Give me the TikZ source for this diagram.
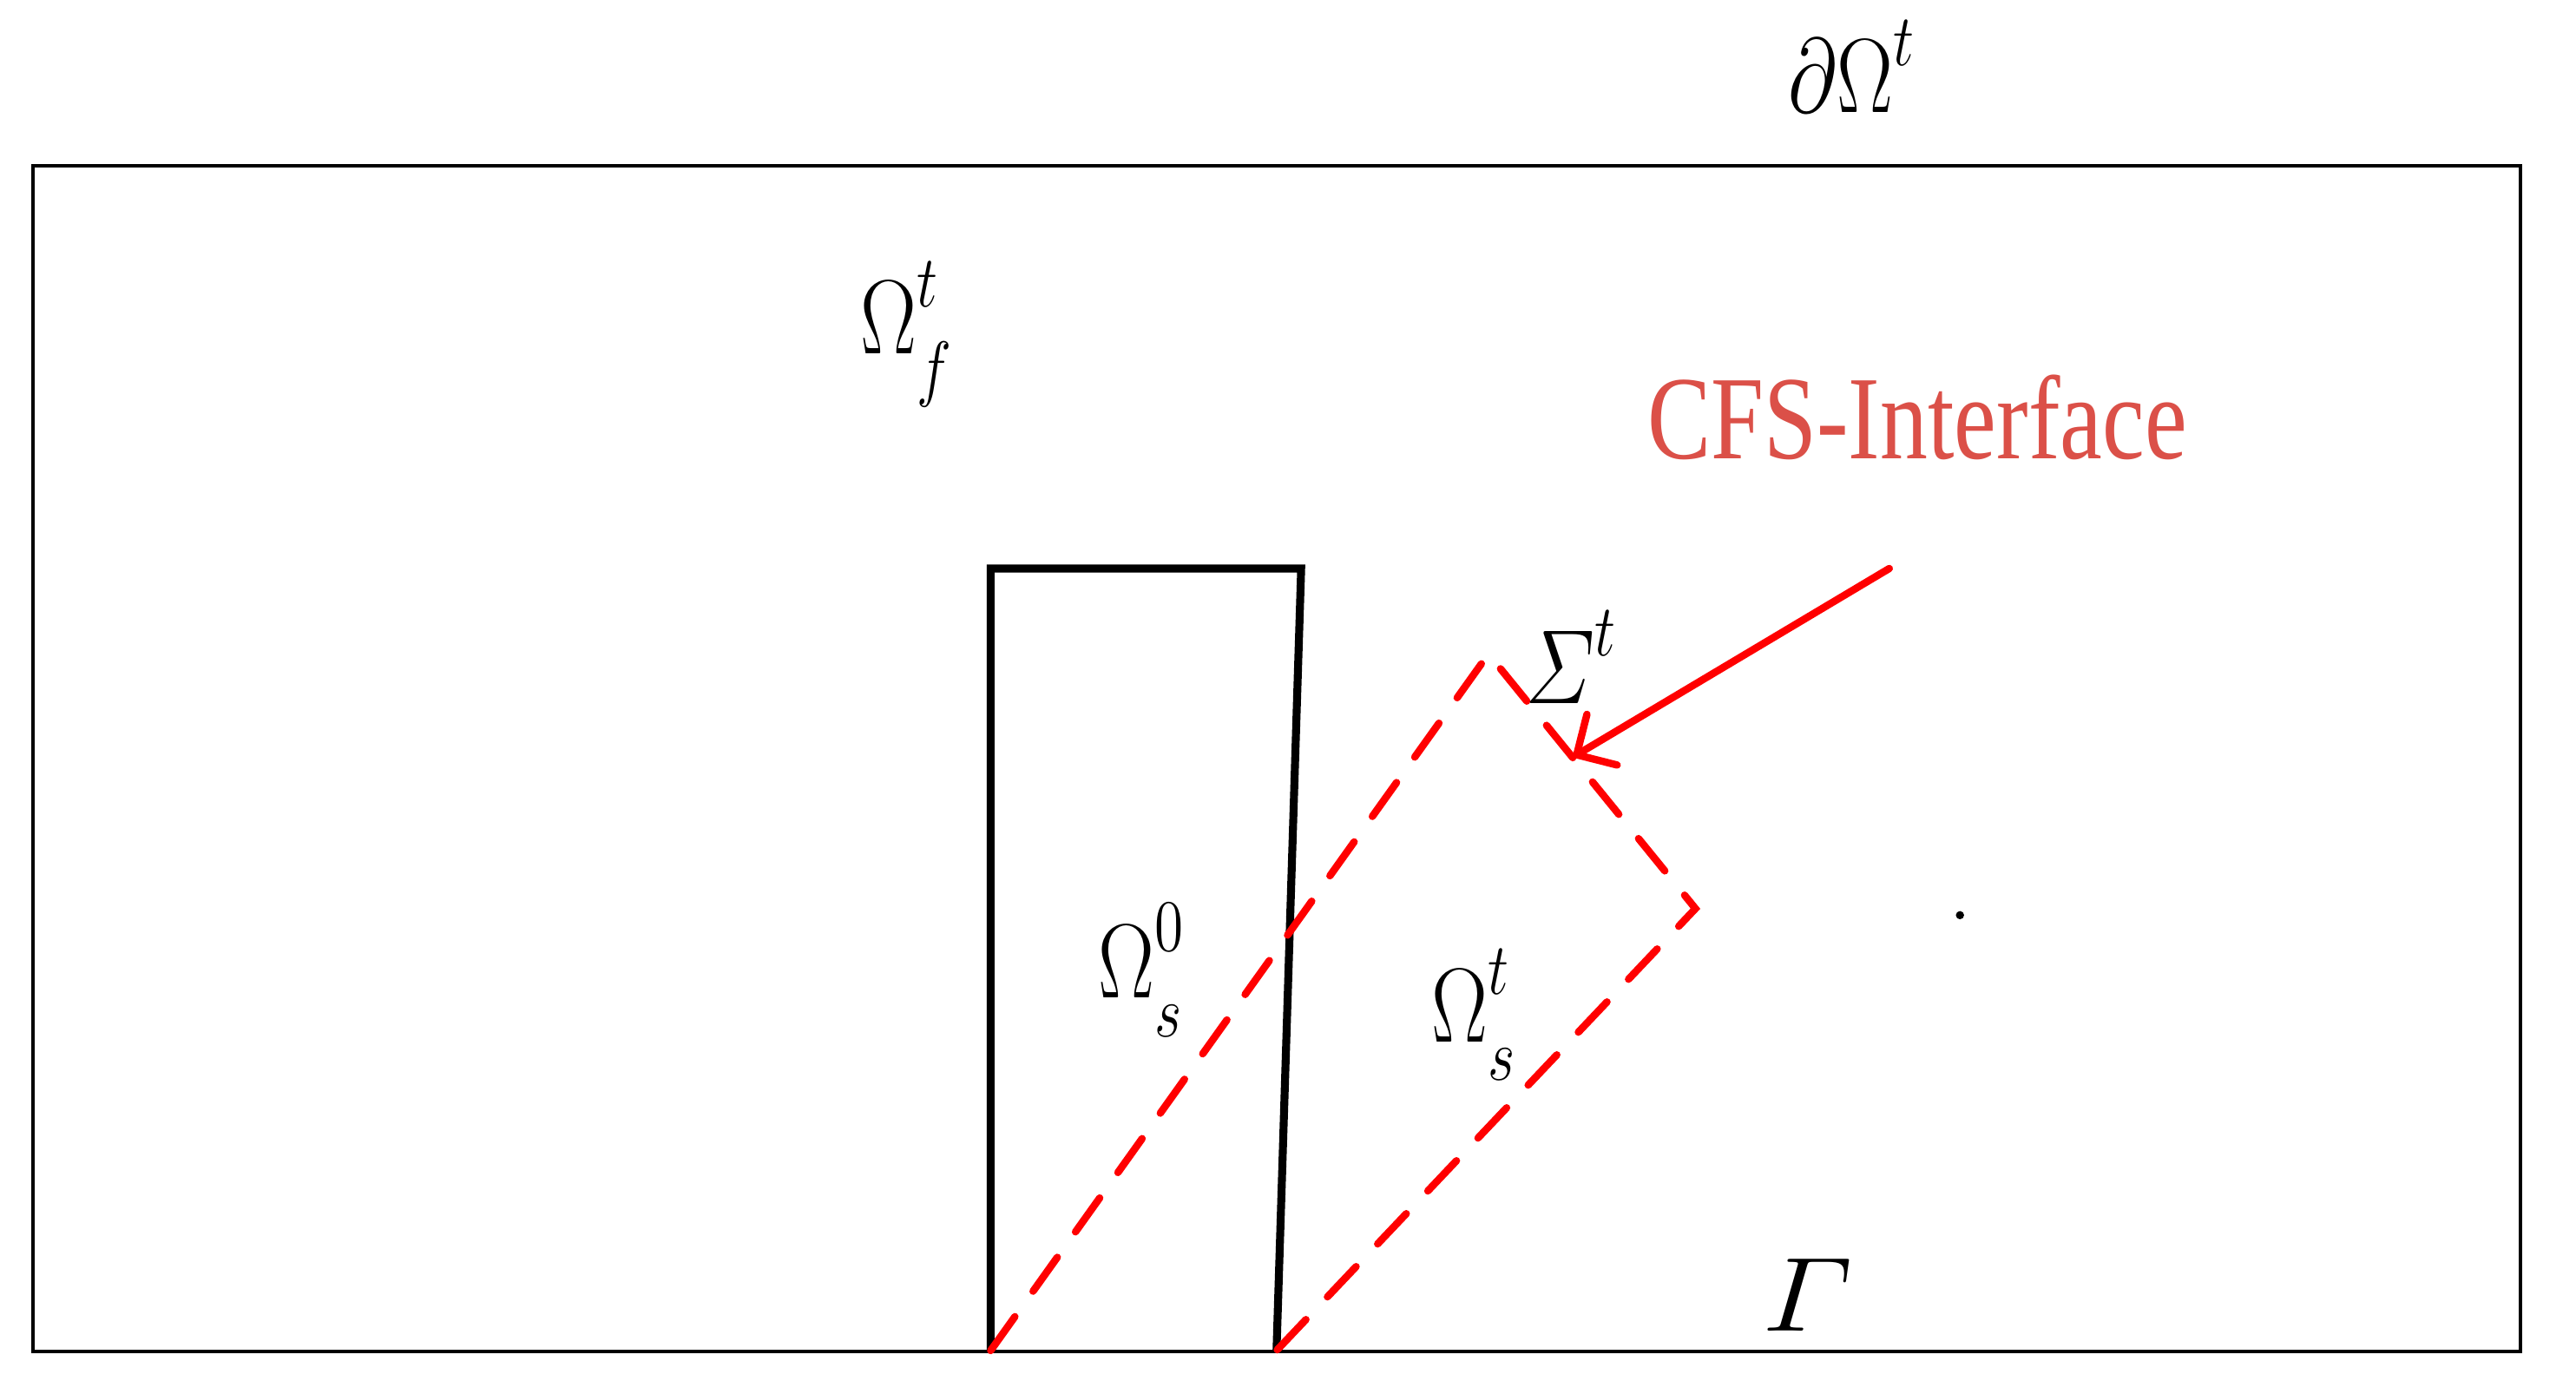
\documentclass[tikz,border=0pt]{standalone}
\usepackage{amsmath}
\usepackage{fontspec}
\newfontfamily\cfsfont{Liberation Serif}
\usetikzlibrary{arrows.meta}
\definecolor{cfsred}{RGB}{219,80,72}
\newcommand{\dom}[3]{#1^{\raisebox{1.5pt}{$\scriptstyle #3$}}_{\raisebox{-2pt}{$\scriptstyle #2$}}}
\tikzset{
    domainlbl/.style={inner sep=0pt, anchor=base west, xscale=0.8, font=\fontsize{17}{20}\selectfont},
    solidwall/.style={line width=1.3pt, black},
    movedwall/.style={line width=1.2pt, red, line cap=round, dash pattern=on 2.4mm off 1.8mm},
}
\begin{document}
\begin{tikzpicture}[x=0.009464cm, y=-0.009464cm]
    \useasboundingbox (0, 0) rectangle (1568, 848);

    % Fluid domain
    \draw[line width=0.55pt] (20, 101) rectangle (1534, 822.5);
    \node[domainlbl] (dOmega) at (1088, 68.5) {$\partial\Omega^{\raisebox{1.5pt}{$\scriptstyle t$}}$};
    \node[domainlbl] (Omegaf) at (523, 215.5) {$\dom{\Omega}{f}{t}$};
    \node[domainlbl, xscale=1.45, font=\fontsize{19}{22}\selectfont] (Gamma) at (1072, 810) {$\varGamma$};

    % Solid in reference configuration
    \coordinate (bl) at (603, 822);
    \coordinate (tl) at (603, 346);
    \coordinate (tr) at (792, 346);
    \coordinate (br) at (777, 822);
    \draw[solidwall] (bl) -- (tl) -- (tr) -- (br);
    \node[domainlbl] (Omegas0) at (668, 607.5) {$\dom{\Omega}{s}{0}$};

    % Solid at time t
    \coordinate (apex) at (906, 398);
    \coordinate (corner) at (1032, 553);
    \draw[movedwall] (bl) -- (apex) -- (corner) -- (br);
    \node[domainlbl] (Omegast) at (871, 634) {$\dom{\Omega}{s}{t}$};
    \node[domainlbl] (Sigma) at (928, 428) {$\varSigma^{\raisebox{1.5pt}{$\scriptstyle t$}}$};

    % Interface label
    \node[inner sep=0pt, text=cfsred, xscale=0.8,
        font=\cfsfont\fontsize{19.5}{22}\selectfont] (cfs) at (1167, 254) {CFS-Interface};
    \coordinate (tail) at (1150, 346);
    \coordinate (tip) at (957, 461);
    \draw[red, line width=1.2pt, line cap=round,
        -{Straight Barb[length=1.7mm, width=3.4mm, line cap=round]}] (tail) -- (tip);

    % Stray point
    \fill (1193, 557) circle (2.5);
\end{tikzpicture}
\end{document}
